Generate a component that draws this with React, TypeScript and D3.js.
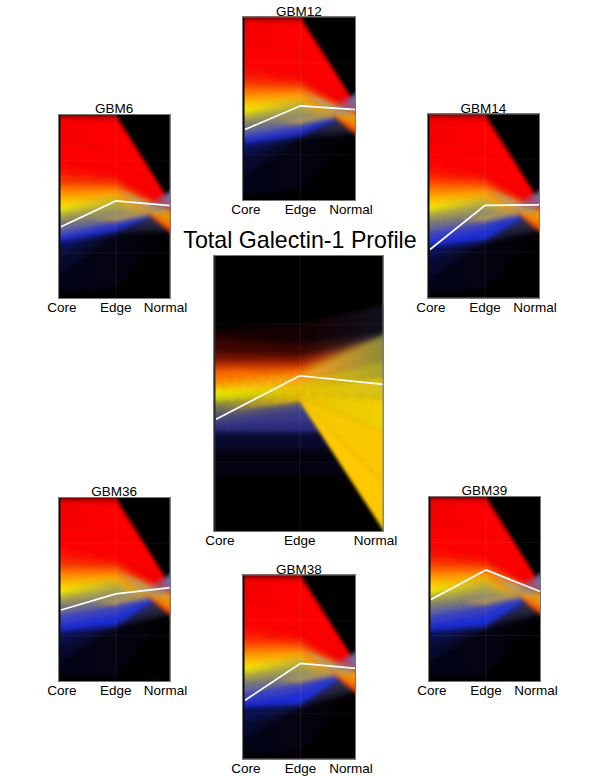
import * as d3 from "d3";

const WIDTH = 600;
const HEIGHT = 776;
const axes = ["Core", "Edge", "Normal"];

// Bundles of profiles on a 0-100 height scale.
// Each list of cuts gives the edges of the colour bands at that axis, top to bottom.
const coreColors = ["#b00000", "#f40000", "#ff0000", "#ff1000", "#ff3000", "#ff5a00", "#ff8000", "#ffa500", "#ffc800", "#f4ec00", "#c8c820", "#a0a050", "#80806e", "#6868a0", "#3840c8", "#1c2cd8", "#0c1470", "#081050", "#060a30", "#030318"];
const edgeColors = ["#d00000", "#ff0000", "#ff0000", "#ff0000", "#ff2000", "#ff5000", "#ff8000", "#ffa000", "#e0b010", "#c8b030", "#b0a840", "#a09858", "#8c8870", "#6a6a90", "#3840c0", "#1c2cd8", "#1a28a0", "#10103c", "#0a0a24", "#040412"];
const normalColors = ["#ff0000", "#ff0000", "#ff0000", "#ff0000", "#ff0000", "#ff1000", "#ff4000", "#ff7000", "#ff8800", "#ff9400", "#ffa000", "#f0a010", "#c89028", "#5a60b0", "#4850c0", "#3848c0", "#2830a8", "#3a3a50", "#28283a", "#000000"];
const normalTops = [52, 51, 50.5, 50, 49.5, 49, 36, 38.5, 40.5, 42.5, 44, 45.5, 47, 58, 56, 53, 50, 48, 42, 37];
const normalBottoms = [51, 50.5, 50, 49.5, 49, 48, 38.5, 40.5, 42.5, 44, 45.5, 47, 48, 56, 53, 50, 48, 42, 37, 36];

const gbm6Core = [100, 98.5, 85, 72, 67, 63, 60, 57, 54, 51, 48, 46, 43, 40, 36, 33, 31, 30, 24, 14, 4];
const gbm6Edge = [100, 97, 80, 70, 66, 63, 60, 58, 56, 54, 52, 50, 47, 44, 42, 39, 37, 36, 35.5, 35, 6];
const gbm12Core = [100, 98.5, 85, 72, 67, 63, 60, 57, 54, 51, 48, 46, 43, 40, 36, 33, 31, 30, 24, 14, 4];
const gbm12Edge = [100, 97, 80, 70, 66, 63, 60, 58, 56, 54, 52, 50, 47, 44, 41, 38, 36, 35, 34.5, 34, 6];
const gbm14Core = [100, 98.5, 85, 72, 67, 63, 60, 57, 54, 51, 48, 46, 43, 40, 36, 31, 28, 27, 21, 12, 3];
const gbm14Edge = [100, 97, 80, 70, 66, 63, 60, 58, 56, 54, 52, 50, 47, 44, 41, 37, 32, 31, 30.5, 30, 5];
const gbm36Core = [100, 98.5, 85, 72, 67, 63, 60, 57, 54, 51, 48, 46, 43, 40, 36, 31, 27.5, 26.5, 20, 12, 3];
const gbm36Edge = [100, 97, 80, 70, 66, 63, 60, 58, 56, 54, 52, 50, 47, 44, 41, 36, 31, 30, 29.5, 29, 4];
const gbm38Core = [100, 98.5, 85, 72, 67, 63, 60, 57, 54, 51, 48, 46, 43, 40, 36, 31, 28.5, 27.5, 20, 12, 3];
const gbm38Edge = [100, 97, 80, 70, 66, 63, 60, 58, 56, 54, 52, 50, 47, 44, 41, 36, 30, 29, 28.5, 28, 4];
const gbm39Core = [100, 98.5, 85, 72, 67, 63, 60, 57, 54, 51, 48, 46, 43, 40, 36, 31, 27.5, 26.5, 20, 12, 3];
const gbm39Edge = [100, 97, 80, 70, 66, 63, 60, 58, 56, 54, 52, 50, 47, 44, 41, 36, 30.5, 29.5, 29, 28.5, 4];

// gold-grey wash behind the crossing bundle, between the edge and normal axes
const washCore = [60, 43];
const washEdge = [62, 42];
const washNormal = [50, 47];
const washColors = ["#ff8000", "#c8a848", "#b09068"];

// grey-blue wedge lying over the apex of the red fan
const capEdge = [44, 44];
const capNormal = [58, 50];
const capColors = ["rgba(112,112,168,0)", "rgba(116,116,168,0.95)"];

// the pooled panel has a shape of its own
const totalCoreColors = ["#1a0000", "#3a0500", "#701000", "#b02800", "#e05000", "#ff7000", "#ff9800", "#ffb800", "#f8e800", "#d8e000", "#a8a840", "#8c8c50", "#70705c", "#505078", "#3a3a88", "#2c2c80", "#0a0a30", "#03030f"];
const totalEdgeColors = ["#140000", "#3a0500", "#701000", "#b02800", "#e05000", "#ff7000", "#ff9800", "#ffa020", "#f0c000", "#e8c800", "#e8c400", "#f4c800", "#ffc800", "#505078", "#3a3a88", "#2c2c80", "#0a0a30", "#03030f"];
const totalNormalColors = ["#10101c", "#202030", "#303038", "#505040", "#606038", "#707034", "#808030", "#8c8c38", "#a8a030", "#d8c018", "#f0d000", "#fcc800", "#ffc800", "#505078", "#3a3a88", "#2c2c80", "#0a0a30", "#03030f"];
const totalCore = [73, 70, 65, 62, 60, 58, 55, 53, 51.5, 49.5, 47.5, 46.5, 45.5, 43, 40, 38, 36, 30, 20];
const totalEdge = [75, 68, 64, 62, 60, 58.5, 57.5, 56.5, 54, 52, 50, 49, 48, 47, 44, 40, 36, 30, 20];
const totalNormalTops = [82, 72, 71.5, 71, 71, 72, 71, 71, 62, 56, 48, 36, 18, 36, 36, 36, 36, 30];
const totalNormalBottoms = [72, 71.5, 71, 71, 72, 71, 71, 62, 56, 48, 36, 18, 0.5, 36, 36, 36, 30, 20];

// the white mean profile of each panel
const gbm6Mean = [39, 53, 50.5];
const gbm12Mean = [38.8, 51.6, 49.5];
const gbm14Mean = [26.5, 50.3, 50.6];
const gbm36Mean = [38.9, 47.6, 51];
const gbm38Mean = [32, 52, 49.3];
const gbm39Mean = [44.3, 60.2, 48.5];
const totalMean = [40.7, 56.4, 53.3];

type PanelProps = {
  id: string;
  title?: string;
  box: number[];
  coreCuts: number[];
  edgeCuts: number[];
  normalTop: number[];
  normalBottom: number[];
  colors: string[][];
  mean: number[];
  overlays?: boolean;
  strip?: string;
  labelInset?: number;
};

function Panel({ id, title, box, coreCuts, edgeCuts, normalTop, normalBottom, colors, mean, overlays, strip = "#0c0c0c", labelInset = 0 }: PanelProps) {
  const [left, right, top, bottom] = box;
  const x = d3.scalePoint().domain(axes).range([left + 3, right]);
  const y = d3.scaleLinear().domain([0, 100]).range([bottom, top]);
  const xCore = x("Core")!;
  const xEdge = x("Edge")!;
  const xNormal = x("Normal")!;

  const ribbonPath = (c0: number, c1: number, e0: number, e1: number, n0: number, n1: number) => {
    const pts = [
      { px: xCore - 10, a: c0, b: c1 },
      { px: xCore, a: c0, b: c1 },
      { px: xEdge, a: e0, b: e1 },
      { px: xNormal, a: n0, b: n1 },
      { px: xNormal + 10, a: n0, b: n1 },
    ];
    return d3
      .area<any>()
      .x((d) => d.px)
      .y0((d) => y(d.b))
      .y1((d) => y(d.a))(pts)!;
  };

  const order = d3.range(colors[0].length).reverse();
  const meanLine = d3
    .line<number>()
    .x((_, i) => x(axes[i])!)
    .y((d) => y(d));

  return (
    <g fontFamily="'Liberation Sans', Arial, sans-serif" fill="#000">
      <defs>
        <clipPath id={`${id}-clip`}>
          <rect x={left} y={top} width={right - left} height={bottom - top} />
        </clipPath>
        <filter id={`${id}-blur`} x="-10%" y="-10%" width="120%" height="120%" colorInterpolationFilters="sRGB">
          <feGaussianBlur stdDeviation="1 2.4" />
        </filter>
        {order.map((i) => (
          <linearGradient key={i} id={`${id}-r${i}`} gradientUnits="userSpaceOnUse" x1={xCore} x2={xNormal} y1={0} y2={0}>
            <stop offset="0" stopColor={colors[0][i]} />
            <stop offset="0.5" stopColor={colors[1][i]} />
            <stop offset="1" stopColor={colors[2][i]} />
          </linearGradient>
        ))}
        {overlays && (
          <>
            <linearGradient id={`${id}-cap`} gradientUnits="userSpaceOnUse" x1={xEdge + (xNormal - xEdge) * 0.55} x2={xNormal} y1={0} y2={0}>
              <stop offset="0" stopColor={capColors[0]} />
              <stop offset="1" stopColor={capColors[1]} />
            </linearGradient>
            <linearGradient id={`${id}-wash`} gradientUnits="userSpaceOnUse" x1={xCore} x2={xNormal} y1={0} y2={0}>
              <stop offset="0" stopColor={washColors[0]} />
              <stop offset="0.5" stopColor={washColors[1]} />
              <stop offset="1" stopColor={washColors[2]} />
            </linearGradient>
          </>
        )}
      </defs>
      <rect x={left} y={top} width={right - left} height={bottom - top} fill="#000" />
      <g clipPath={`url(#${id}-clip)`}>
        <g filter={`url(#${id}-blur)`}>
          {order.map((i) => (
            <g key={i}>
              {overlays && i === 12 && (
                <path
                  d={ribbonPath(washCore[0], washCore[1], washEdge[0], washEdge[1], washNormal[0], washNormal[1])}
                  fill={`url(#${id}-wash)`}
                />
              )}
              <path
                d={ribbonPath(coreCuts[i], coreCuts[i + 1], edgeCuts[i], edgeCuts[i + 1], normalTop[i], normalBottom[i])}
                fill={`url(#${id}-r${i})`}
              />
            </g>
          ))}
          {overlays && (
            <path d={ribbonPath(capEdge[0], capEdge[1], capEdge[0], capEdge[1], capNormal[0], capNormal[1])} fill={`url(#${id}-cap)`} />
          )}
        </g>
        <line x1={xEdge} x2={xEdge} y1={top} y2={bottom} stroke="#fff" strokeOpacity={0.07} />
        {[25, 75].map((t) => (
          <line key={t} x1={left} x2={right} y1={y(t)} y2={y(t)} stroke="#fff" strokeOpacity={0.05} />
        ))}
        <path d={meanLine(mean)!} fill="none" stroke="#fff" strokeWidth={1.7} />
      </g>
      <rect x={left + 0.5} y={top + 0.5} width={xCore - left - 1} height={bottom - top - 1} fill={strip} />
      <rect x={left + 0.5} y={top + 0.5} width={right - left - 1} height={bottom - top - 1} fill="none" stroke="#777" />
      {title && (
        <text x={(left + right) / 2} y={top - 1} textAnchor="middle" fontSize={13.5}>
          {title}
        </text>
      )}
      {axes.map((a) => (
        <text
          key={a}
          x={a === "Core" ? xCore + 1 + labelInset : a === "Normal" ? xNormal - 5 - labelInset : x(a)!}
          y={bottom + 13}
          textAnchor="middle"
          fontSize={13.5}
        >
          {a}
        </text>
      ))}
    </g>
  );
}

const smallColors = [coreColors, edgeColors, normalColors];
const totalColors = [totalCoreColors, totalEdgeColors, totalNormalColors];
const smallPanels = [
  { id: "g6", title: "GBM6", box: [58, 170.5, 114, 299], core: gbm6Core, edge: gbm6Edge, mean: gbm6Mean },
  { id: "g12", title: "GBM12", box: [242, 356, 16.5, 201], core: gbm12Core, edge: gbm12Edge, mean: gbm12Mean },
  { id: "g14", title: "GBM14", box: [427, 540, 113.5, 298.5], core: gbm14Core, edge: gbm14Edge, mean: gbm14Mean },
  { id: "g36", title: "GBM36", box: [58, 170.5, 497, 682], core: gbm36Core, edge: gbm36Edge, mean: gbm36Mean },
  { id: "g38", title: "GBM38", box: [242, 356, 574.5, 759.5], core: gbm38Core, edge: gbm38Edge, mean: gbm38Mean },
  { id: "g39", title: "GBM39", box: [428, 541, 496, 682], core: gbm39Core, edge: gbm39Edge, mean: gbm39Mean },
];

export default function App() {
  return (
    <svg width={WIDTH} height={HEIGHT} style={{ position: "absolute", left: 0, top: 0, background: "#fff" }}>
      {smallPanels.map((p) => (
        <Panel
          key={p.id}
          id={p.id}
          title={p.title}
          box={p.box}
          coreCuts={p.core}
          edgeCuts={p.edge}
          normalTop={normalTops}
          normalBottom={normalBottoms}
          colors={smallColors}
          mean={p.mean}
          overlays
        />
      ))}
      <Panel
        id="total"
        box={[213, 383.5, 255, 532]}
        coreCuts={totalCore}
        edgeCuts={totalEdge}
        normalTop={totalNormalTops}
        normalBottom={totalNormalBottoms}
        colors={totalColors}
        mean={totalMean}
        strip="#2c2c2c"
        labelInset={3}
      />
      <text x={300} y={248} textAnchor="middle" fontSize={23.2} fontFamily="'Liberation Sans', Arial, sans-serif">
        Total Galectin-1 Profile
      </text>
    </svg>
  );
}
